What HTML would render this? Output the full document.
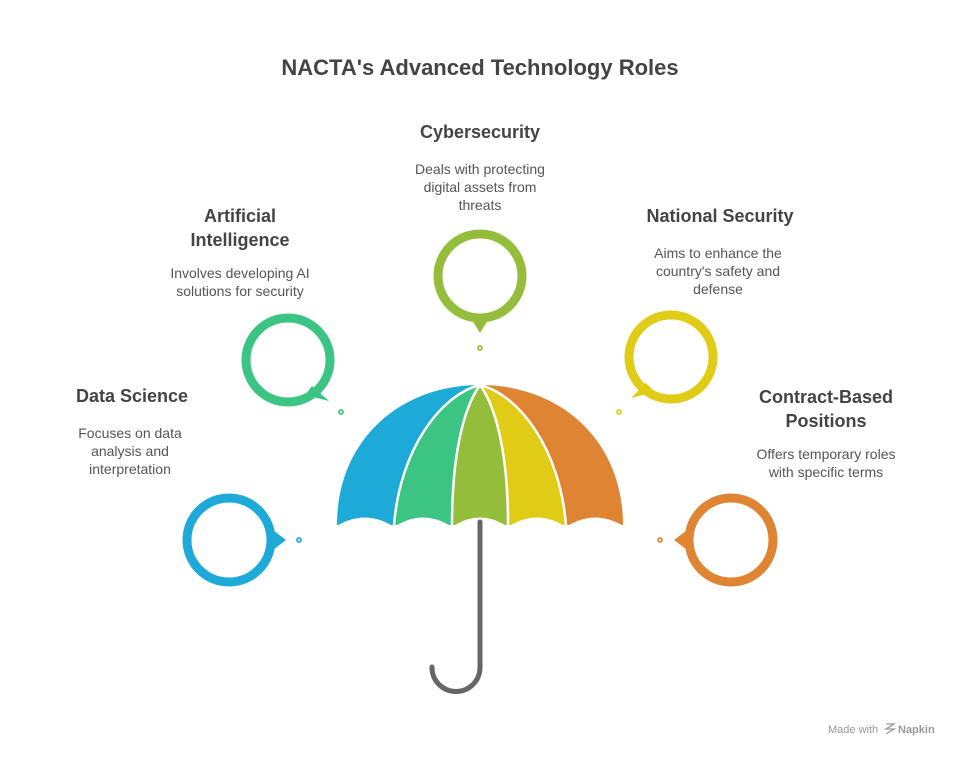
<!DOCTYPE html>
<html><head><meta charset="utf-8"><style>
body{margin:0;background:#fff;}
svg text{font-family:"Liberation Sans",sans-serif;}
</style></head><body>
<svg width="960" height="756" viewBox="0 0 960 756" xmlns="http://www.w3.org/2000/svg">
<rect width="960" height="756" fill="#fff"/>
<text x="480" y="75" text-anchor="middle" font-size="22" font-weight="bold" fill="#444">NACTA's Advanced Technology Roles</text>

<!-- umbrella canopy -->
<path d="M480 385 C400 385 337 440 337 525 L394 525 C400 450 440 395 480 385Z" fill="#1eaad9"/>
<path d="M480 385 C440 395 400 450 394 525 L452 525 C452 460 462 410 480 385Z" fill="#3cc482"/>
<path d="M480 385 C462 410 452 460 452 525 L508 525 C508 460 498 410 480 385Z" fill="#93bd3a"/>
<path d="M480 385 C498 410 508 460 508 525 L566 525 C560 450 520 395 480 385Z" fill="#e0cc17"/>
<path d="M480 385 C520 395 560 450 566 525 L623 525 C623 440 560 385 480 385Z" fill="#df8432"/>
<g stroke="#fff" stroke-width="2.5" fill="none">
<path d="M480 385 C440 395 400 450 394 525"/>
<path d="M480 385 C462 410 452 460 452 525"/>
<path d="M480 385 C498 410 508 460 508 525"/>
<path d="M480 385 C520 395 560 450 566 525"/>
</g>
<path d="M335 527 Q365 508 394 527 Q423 508 452 527 Q480 508 508 527 Q537 508 566 527 Q595 508 625 527 L625 535 L335 535Z" fill="#fff"/>
<path d="M480 522 V668 A24 24 0 0 1 432 667" stroke="#666" stroke-width="5" fill="none" stroke-linecap="round"/>

<!-- circles -->
<g fill="none" stroke-width="9">
<circle cx="229" cy="540" r="42" stroke="#1eaad9"/>
<circle cx="288" cy="360" r="42" stroke="#3cc482"/>
<circle cx="480" cy="276" r="42" stroke="#93bd3a"/>
<circle cx="671" cy="357" r="42" stroke="#e0cc17"/>
<circle cx="731" cy="540" r="42" stroke="#df8432"/>
</g>
<path d="M270 528 L286 540 L270 552Z" fill="#1eaad9"/>
<path d="M312 386 L329 401 L305 395Z" fill="#3cc482"/>
<path d="M470 317 L480 333 L490 317Z" fill="#93bd3a"/>
<path d="M646 383 L631 398 L655 392Z" fill="#e0cc17"/>
<path d="M690 528 L674 540 L690 552Z" fill="#df8432"/>
<g fill="none" stroke-width="1.8">
<circle cx="299" cy="540" r="2" stroke="#1eaad9"/>
<circle cx="341" cy="412" r="2" stroke="#3cc482"/>
<circle cx="480" cy="348" r="2" stroke="#93bd3a"/>
<circle cx="619" cy="412" r="2" stroke="#e0cc17"/>
<circle cx="660" cy="540" r="2" stroke="#df8432"/>
</g>

<!-- labels -->
<g font-size="18" font-weight="bold" fill="#444">
<text x="132" y="402" text-anchor="middle">Data Science</text>
<text x="240" y="222" text-anchor="middle">Artificial</text>
<text x="240" y="246" text-anchor="middle">Intelligence</text>
<text x="480" y="138" text-anchor="middle">Cybersecurity</text>
<text x="720" y="222" text-anchor="middle">National Security</text>
<text x="826" y="403" text-anchor="middle">Contract-Based</text>
<text x="826" y="427" text-anchor="middle">Positions</text>
</g>
<g font-size="14" fill="#555">
<text x="130" y="438" text-anchor="middle">Focuses on data</text>
<text x="130" y="456" text-anchor="middle">analysis and</text>
<text x="130" y="474" text-anchor="middle">interpretation</text>
<text x="240" y="278" text-anchor="middle">Involves developing AI</text>
<text x="240" y="296" text-anchor="middle">solutions for security</text>
<text x="480" y="174" text-anchor="middle">Deals with protecting</text>
<text x="480" y="192" text-anchor="middle">digital assets from</text>
<text x="480" y="210" text-anchor="middle">threats</text>
<text x="718" y="258" text-anchor="middle">Aims to enhance the</text>
<text x="718" y="276" text-anchor="middle">country's safety and</text>
<text x="718" y="294" text-anchor="middle">defense</text>
<text x="826" y="459" text-anchor="middle">Offers temporary roles</text>
<text x="826" y="477" text-anchor="middle">with specific terms</text>
</g>
<text x="828" y="733" font-size="11" fill="#999">Made with</text>
<text x="898" y="733" font-size="11" fill="#999" font-weight="bold">Napkin</text>
<path d="M886 724 l8 0 l-8 5 l8 0 l-8 5" stroke="#999" stroke-width="1.3" fill="none"/>
</svg>
</body></html>
